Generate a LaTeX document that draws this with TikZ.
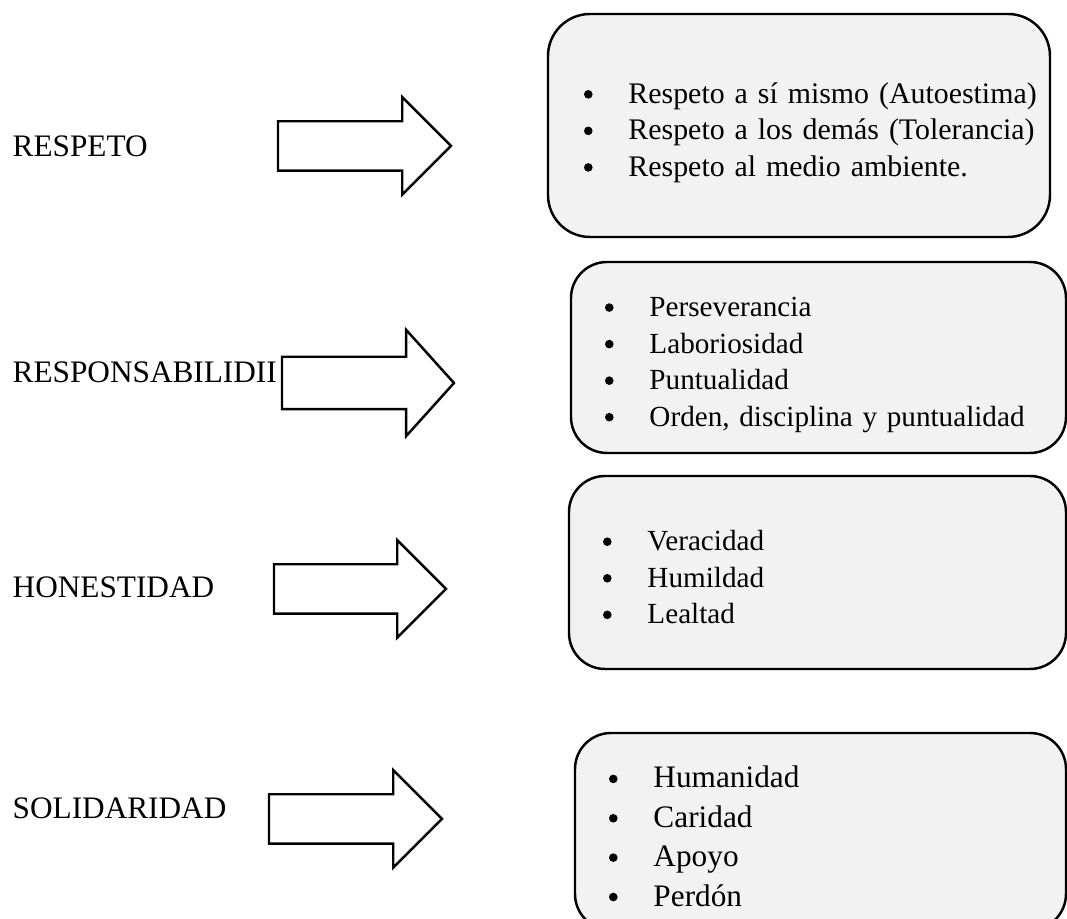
\documentclass[tikz,border=0pt]{standalone}
\usepackage{fontspec}
\setmainfont{Liberation Serif}
\usetikzlibrary{shapes.arrows}
\definecolor{boxgray}{HTML}{F2F2F2}
\newcommand{\bul}[1]{\mbox{\makebox[0.445cm][l]{\tikz[baseline=-0.09cm]\fill (0,0) circle (0.043cm);}#1}}

\begin{document}
\begin{tikzpicture}[
    lbl/.style = {anchor=base west, inner sep=0pt,
                font=\fontsize{8.9}{11}\selectfont},
    blk/.style = {shape=single arrow, draw, fill=white, line width=0.7pt,
                inner xsep=0pt, inner ysep=0.235cm, outer sep=0pt,
                single arrow head extend=0.24cm, single arrow tip angle=90,
                minimum height=1.73cm, anchor=tip},
    lst/.style = {draw, fill=boxgray, line width=0.7pt,
                rounded corners=0.36cm, anchor=north west, align=left,
                inner xsep=0.34cm, outer sep=0pt,
                font=\fontsize{8.3}{10.4}\selectfont},
    lead/.style = {execute at begin node={\rule{0pt}{#1}}}
                    ]
\useasboundingbox (0,0) rectangle (10.67,-9.19);
\clip (0,0) rectangle (10.67,-9.19);

\node (n1) [lbl] at (0.12,-1.57) {RESPETO};
\node (n2) [blk] at (4.51,-1.46) {};
\node (n3) [lst, inner xsep=0.36cm, text width=4.30cm, minimum height=2.23cm,
    rounded corners=0.42cm, lead=10pt, font=\fontsize{8.5}{10.4}\selectfont]
    at (5.48,-0.14) {\bul{Respeto a sí mismo (Autoestima)}\\
                     \bul{Respeto a los demás (Tolerancia)}\\
                     \bul{Respeto al medio ambiente.}};

\node (n4) [lbl] at (0.12,-3.83) {RESPONSABILIDII};
\node (n5) [blk, inner ysep=0.25cm, single arrow head extend=0.27cm,
    single arrow tip angle=96, minimum height=1.72cm] at (4.54,-3.83) {};
\node (n6) [lst, text width=4.27cm, minimum height=1.91cm, lead=9.7pt]
    at (5.71,-2.62) {\bul{Perseverancia}\\
                     \bul{Laboriosidad}\\
                     \bul{Puntualidad}\\
                     \bul{Orden, disciplina y puntualidad}};

\node (n7) [lbl] at (0.12,-5.98) {HONESTIDAD};
\node (n8) [blk, minimum height=1.72cm] at (4.46,-5.89) {};
\node (n9) [lst, text width=4.29cm, minimum height=1.93cm, lead=8.5pt]
    at (5.69,-4.76) {\bul{Veracidad}\\
                     \bul{Humildad}\\
                     \bul{Lealtad}};

\node (n10) [lbl] at (0.12,-8.19) {SOLIDARIDAD};
\node (n11) [blk] at (4.42,-8.19) {};
\node (n12) [lst, text width=4.23cm, minimum height=1.97cm, lead=8.9pt,
    font=\fontsize{8.9}{11.2}\selectfont]
    at (5.75,-7.33) {\bul{Humanidad}\\
                     \bul{Caridad}\\
                     \bul{Apoyo}\\
                     \bul{Perdón}};

\end{tikzpicture}
\end{document}
